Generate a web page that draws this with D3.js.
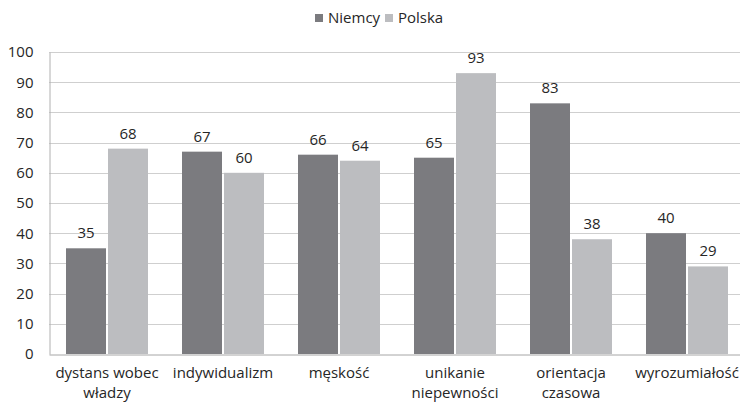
<!DOCTYPE html>
<html><head><meta charset="utf-8">
<script src="https://cdn.jsdelivr.net/npm/d3@7"></script>
<style>body{margin:0;background:#fff}svg{display:block}text{font-family:"Open Sans",sans-serif;fill:#262626}</style>
</head><body><svg id="c" width="740" height="403"></svg>
<script>
const categories = [["dystans wobec","władzy"],["indywidualizm"],["męskość"],["unikanie","niepewności"],["orientacja","czasowa"],["wyrozumiałość"]];
const seriesNames = ["Niemcy","Polska"];
const niemcy = [35,67,66,65,83,40];
const polska = [68,60,64,93,38,29];
const yTicks = [0,10,20,30,40,50,60,70,80,90,100];
const colors = ["#7b7b7f","#bcbdc0"];

const svg = d3.select("#c");
const mLeft = 49, mRight = 745, mTop = 52, mBottom = 354;
const x = d3.scaleBand().domain(d3.range(categories.length)).range([mLeft,mRight]);
const y = d3.scaleLinear().domain([0,100]).range([mBottom,mTop]);
const barW = 40, gap = 2;
const fs = 15;

// gridlines
svg.append("g").selectAll("line").data(yTicks.filter(d=>d>0)).join("line")
  .attr("x1",mLeft).attr("x2",mRight).attr("y1",d=>Math.round(y(d))+0.5).attr("y2",d=>Math.round(y(d))+0.5)
  .attr("stroke","#cfcfcf").attr("stroke-width",1);

// y axis
const yAxis = d3.axisLeft(y).tickValues(yTicks).tickSize(0).tickPadding(16);
const gy = svg.append("g").attr("transform",`translate(${mLeft+0.5},0)`).call(yAxis);
gy.select(".domain").attr("stroke","#b0b0b0");
gy.selectAll("text").attr("font-size",fs).attr("font-family","Open Sans").attr("fill","#262626");

// bars
const series = [niemcy, polska];
series.forEach((vals,si)=>{
  const g = svg.append("g");
  g.selectAll("rect").data(vals).join("rect")
    .attr("x",(d,i)=>x(i)+x.bandwidth()/2 - barW - gap/2 + si*(barW+gap))
    .attr("width",barW)
    .attr("y",d=>y(d)).attr("height",d=>y(0)-y(d))
    .attr("fill",colors[si]);
  g.selectAll("text").data(vals).join("text")
    .attr("x",(d,i)=>x(i)+x.bandwidth()/2 - barW/2 - gap/2 + si*(barW+gap))
    .attr("y",d=>y(d)-10).attr("text-anchor","middle").attr("font-size",fs).text(d=>d);
});

// x axis
const gx = svg.append("g").attr("transform",`translate(0,${mBottom+0.5})`)
  .call(d3.axisBottom(x).tickSize(0).tickFormat(()=>""));
gx.select(".domain").attr("stroke","#a6a6a6");
svg.append("g").selectAll("text").data(categories).join("text")
  .attr("x",(d,i)=>x(i)+x.bandwidth()/2).attr("y",378).attr("text-anchor","middle").attr("font-size",fs)
  .each(function(d){
    const t = d3.select(this);
    d.forEach((line,k)=>t.append("tspan").attr("x",t.attr("x")).attr("dy",k?20:0).text(line));
  });

// legend
const leg = svg.append("g");
const legX = [315, 385];
seriesNames.forEach((n,i)=>{
  leg.append("rect").attr("x",legX[i]).attr("y",14).attr("width",8).attr("height",8).attr("fill",colors[i]);
  leg.append("text").attr("x",legX[i]+13).attr("y",23).attr("font-size",fs).text(n);
});
</script></body></html>
